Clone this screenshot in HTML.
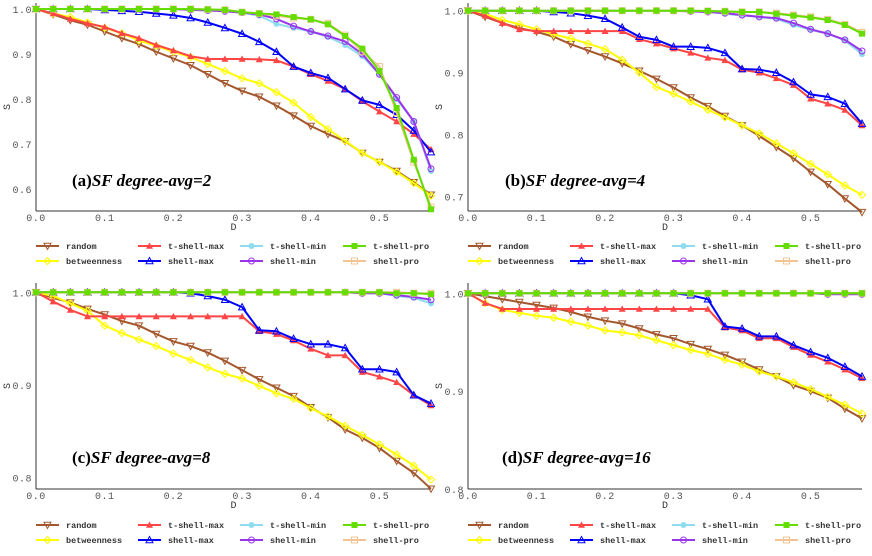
<!DOCTYPE html>
<html><head><meta charset="utf-8"><style>
body{margin:0;background:#fff;}
svg{display:block;}
text{font-family:"Liberation Mono","DejaVu Sans Mono",monospace;}
</style></head><body>
<svg id="chart" width="872" height="556" xmlns="http://www.w3.org/2000/svg"></svg>
<script>
const dValues=[0,0.025,0.05,0.075,0.1,0.125,0.15,0.175,0.2,0.225,0.25,0.275,0.3,0.325,0.35,0.375,0.4,0.425,0.45,0.475,0.5,0.525,0.55,0.575];
const seriesNames=["random","betweenness","t-shell-max","shell-max","t-shell-min","shell-min","t-shell-pro","shell-pro"];
const xTicks=["0.0","0.1","0.2","0.3","0.4","0.5"];
const yTicksA=["0.6","0.7","0.8","0.9","1.0"];
const yTicksB=["0.7","0.8","0.9","1.0"];
const yTicksC=["0.8","0.9","1.0"];
const yTicksD=["0.8","0.9","1.0"];
const titles=["(a)","(b)","(c)","(d)"];
const subtitles=["SF degree-avg=2","SF degree-avg=4","SF degree-avg=8","SF degree-avg=16"];
// panel a
const aRandom=[1,.988,.975,.965,.95,.935,.922,.905,.89,.875,.855,.835,.818,.805,.785,.763,.74,.722,.706,.68,.66,.64,.615,.587];
const aBetween=[1,.99,.982,.97,.958,.946,.93,.918,.905,.893,.878,.862,.846,.835,.815,.792,.76,.733,.707,.68,.66,.638,.613,.585];
const aTMax=[1,.99,.978,.968,.96,.946,.935,.92,.908,.895,.889,.889,.889,.888,.886,.872,.855,.84,.822,.795,.772,.75,.722,.688];
const aMax=[1,1,1,1,.998,.996,.994,.99,.986,.98,.97,.958,.945,.927,.905,.872,.858,.847,.822,.797,.787,.765,.73,.682];
const aTMin=[1,1,1,1,1,1,1,1,1,.998,.997,.995,.992,.985,.967,.958,.95,.938,.92,.895,.855,.8,.75,.64];
const aMin=[1,1,1,1,1,1,1,1,1,.998,.997,.995,.992,.988,.978,.962,.95,.94,.928,.9,.855,.803,.75,.645];
const aTPro=[1,1,1,1,1,1,1,1,1,1,.999,.998,.993,.99,.988,.982,.977,.966,.94,.912,.862,.78,.665,.555];
const aPro=[1,1,1,1,1,1,1,1,1,1,.999,.998,.993,.99,.985,.98,.977,.968,.942,.905,.872,.77,.66,.56];
// panel b
const bRandom=[1,.99,.98,.972,.966,.958,.946,.936,.926,.915,.903,.89,.876,.86,.846,.83,.815,.798,.78,.762,.74,.72,.697,.675];
const bBetween=[1,.995,.985,.978,.97,.962,.955,.947,.938,.921,.9,.877,.866,.853,.84,.828,.815,.802,.786,.77,.753,.736,.718,.703];
const bTMax=[1,.992,.98,.97,.967,.967,.967,.967,.967,.967,.954,.947,.939,.932,.924,.92,.905,.9,.891,.88,.858,.85,.84,.815];
const bMax=[1,1,1,1,1,.998,.996,.992,.987,.973,.958,.953,.942,.942,.94,.932,.906,.905,.9,.885,.865,.861,.85,.818];
const bTMin=[1,1,1,1,1,1,1,1,1,1,1,1,1,.999,.998,.995,.992,.99,.987,.977,.969,.963,.952,.93];
const bMin=[1,1,1,1,1,1,1,1,1,1,1,1,1,.999,.998,.996,.993,.99,.988,.98,.97,.963,.953,.935];
const bTPro=[1,1,1,1,1,1,1,1,1,1,1,1,1,1,.9995,.999,.998,.998,.995,.992,.989,.985,.977,.963];
const bPro=[1,1,1,1,1,1,1,1,1,1,1,1,1,1,.9995,.999,.998,.998,.996,.993,.99,.986,.978,.965];
// panel c
const cRandom=[1,.994,.989,.982,.976,.969,.964,.955,.947,.942,.935,.926,.916,.906,.897,.888,.876,.865,.852,.843,.832,.818,.805,.788];
const cBetween=[1,.996,.988,.98,.964,.956,.949,.942,.934,.927,.919,.912,.907,.899,.891,.885,.875,.866,.856,.846,.836,.825,.813,.798];
const cTMax=[1,.99,.981,.974,.974,.974,.974,.974,.974,.974,.974,.974,.974,.958,.955,.948,.939,.932,.932,.914,.909,.903,.889,.878];
const cMax=[1,1,1,1,1,1,1,1,1,.999,.996,.992,.984,.959,.958,.95,.944,.944,.94,.917,.917,.914,.889,.88];
const cTMin=[1,1,1,1,1,1,1,1,1,1,1,1,1,1,1,1,1,1,1,.999,.999,.996,.994,.988];
const cMin=[1,1,1,1,1,1,1,1,1,1,1,1,1,1,1,1,1,1,1,.999,.999,.997,.995,.992];
const cTPro=[1,1,1,1,1,1,1,1,1,1,1,1,1,1,1,1,1,1,1,1,1,.999,.999,.998];
const cPro=[1,1,1,1,1,1,1,1,1,1,1,1,1,1,1,1,1,1,1,1,1,1,.999,.999];
// panel d
const dRandom=[1,.997,.994,.991,.988,.985,.981,.976,.972,.969,.964,.958,.954,.948,.943,.937,.93,.922,.915,.906,.9,.893,.882,.872];
const dBetween=[1,.99,.983,.98,.977,.975,.971,.967,.962,.96,.957,.952,.947,.942,.938,.932,.927,.92,.915,.909,.902,.894,.886,.877];
const dTMax=[1,.99,.984,.984,.984,.984,.984,.984,.984,.984,.984,.984,.984,.984,.984,.965,.962,.954,.954,.945,.937,.93,.922,.913];
const dMax=[1,1,1,1,1,1,1,1,1,1,1,1,1,.998,.994,.966,.964,.956,.956,.947,.94,.934,.925,.915];
const dTMin=[1,1,1,1,1,1,1,1,1,1,1,1,1,1,1,1,1,1,1,1,1,1,1,1];
const dMin=[1,1,1,1,1,1,1,1,1,1,1,1,1,1,1,1,1,1,1,1,1,.999,.999,.999];
const dTPro=[1,1,1,1,1,1,1,1,1,1,1,1,1,1,1,1,1,1,1,1,1,1,1,1];
const dPro=[1,1,1,1,1,1,1,1,1,1,1,1,1,1,1,1,1,1,1,1,1,1,1,1];

const NS="http://www.w3.org/2000/svg";
const svg=document.getElementById('chart');
const colors=["#a4572c","#ffff00","#ff4545","#0000ff","#8fdcee","#9a36ea","#66dd00","#f2c494"];
const markers=["tri-down","diamond","tri-up-fill","tri-up","circle-fill","circle","square-fill","square"];
const drawOrder=[0,1,2,3,4,5,7,6];
function mk(tag,attrs,parent){const e=document.createElementNS(NS,tag);for(const k in attrs)e.setAttribute(k,attrs[k]);(parent||svg).appendChild(e);return e;}
function marker(g,type,x,y,c){
  const s=3.5;let e;
  const fill=type.endsWith('-fill')?c:'none';
  const st=type.endsWith('-fill')?'none':c;
  const t=type.replace('-fill','');
  if(t==='tri-down')e=mk('polygon',{points:`${x-s},${y-s*0.8} ${x+s},${y-s*0.8} ${x},${y+s}`,fill:fill,stroke:st,'stroke-width':1},g);
  else if(t==='tri-up')e=mk('polygon',{points:`${x-s},${y+s*0.8} ${x+s},${y+s*0.8} ${x},${y-s}`,fill:fill,stroke:st,'stroke-width':1},g);
  else if(t==='diamond')e=mk('polygon',{points:`${x},${y-s} ${x+s},${y} ${x},${y+s} ${x-s},${y}`,fill:fill,stroke:st,'stroke-width':1},g);
  else if(t==='circle')e=mk('circle',{cx:x,cy:y,r:3,fill:fill,stroke:st,'stroke-width':1},g);
  else e=mk('rect',{x:x-3,y:y-3,width:6,height:6,fill:fill,stroke:st,'stroke-width':1},g);
  
  
}
const panels=[
 {id:'a',x0:36,x1:431,y1:9,k:450,top:3,bottom:211,ticks:yTicksA,series:[aRandom,aBetween,aTMax,aMax,aTMin,aMin,aTPro,aPro],tx:72,ty:186,ly:246},
 {id:'b',x0:468,x1:862,y1:10.7,k:620,top:3,bottom:211,ticks:yTicksB,series:[bRandom,bBetween,bTMax,bMax,bTMin,bMin,bTPro,bPro],tx:505,ty:186,ly:246},
 {id:'c',x0:36,x1:431,y1:292.3,k:927,top:283,bottom:489,ticks:yTicksC,series:[cRandom,cBetween,cTMax,cMax,cTMin,cMin,cTPro,cPro],tx:72,ty:463,ly:525},
 {id:'d',x0:468,x1:862,y1:293.3,k:978,top:283,bottom:489,ticks:yTicksD,series:[dRandom,dBetween,dTMax,dMax,dTMin,dMin,dTPro,dPro],tx:502,ty:463,ly:525}
];
panels.forEach((p,pi)=>{
  const g=mk('g',{});
  
  
  const sx=v=>p.x0+(v/0.575)*(p.x1-p.x0);
  const sy=v=>p.y1+(1-v)*p.k;
  const ya=mk('line',{x1:p.x0,y1:p.top,x2:p.x0,y2:p.bottom,stroke:'#333','stroke-width':1},g);
  
  
  const xa=mk('line',{x1:p.x0,y1:p.bottom,x2:p.x1,y2:p.bottom,stroke:'#333','stroke-width':1},g);
  
  
  xTicks.forEach(t=>{
    const tx=mk('text',{x:sx(parseFloat(t)),y:p.bottom+10,'font-size':10,fill:'#555','text-anchor':'middle','letter-spacing':'0.5'},g);
    tx.textContent=t;
    
    
  });
  p.ticks.forEach(t=>{
    const tx=mk('text',{x:p.x0-4,y:sy(parseFloat(t))+4,'font-size':10,fill:'#555','text-anchor':'end','letter-spacing':'0.5'},g);
    tx.textContent=t;
    
    
  });
  const xl=mk('text',{x:(p.x0+p.x1)/2,y:p.bottom+19,'font-size':10,fill:'#333','text-anchor':'middle'},g);
  xl.textContent='D';
  
  
  const ymid=(p.top+p.bottom)/2;
  const yl=mk('text',{x:p.x0-26,y:ymid,'font-size':10,fill:'#333','text-anchor':'middle',transform:`rotate(-90 ${p.x0-26} ${ymid})`},g);
  yl.textContent='S';
  
  
  const tt=mk('text',{x:p.tx,y:p.ty,'font-size':17,'font-weight':'bold',fill:'#000',style:'font-family:"Liberation Serif",serif'},g);
  
  
  const t1=mk('tspan',{},tt);t1.textContent=titles[pi];
  const t2=mk('tspan',{'font-style':'italic'},tt);t2.textContent=subtitles[pi];
  drawOrder.forEach(si=>{
    const vals=p.series[si];
    const sg=mk('g',{},g);
    
    
    const pts=vals.map((v,i)=>sx(dValues[i])+','+sy(v)).join(' ');
    const pl=mk('polyline',{points:pts,fill:'none',stroke:colors[si],'stroke-width':2,'stroke-linejoin':'round'},sg);
    
    
    vals.forEach((v,i)=>marker(sg,markers[si],sx(dValues[i]),sy(v),colors[si]));
  });
  const lg=mk('g',{},g);
  
  
  const colX=[0,102,204,307];
  const legOrder=[[0,2,4,6],[1,3,5,7]];
  legOrder.forEach((row,ri)=>row.forEach((si,ci)=>{
    const lx=p.x0+colX[ci], ly=p.ly+ri*15;
    const eg=mk('g',{},lg);
    
    
    mk('line',{x1:lx,y1:ly,x2:lx+23,y2:ly,stroke:colors[si],'stroke-width':2},eg);
    marker(eg,markers[si],lx+11.5,ly,colors[si]);
    const lt=mk('text',{x:lx+30,y:ly+3,'font-size':8.5,fill:'#333','font-weight':'bold'},eg);
    lt.textContent=seriesNames[si];
  }));
});
</script>
</body></html>
